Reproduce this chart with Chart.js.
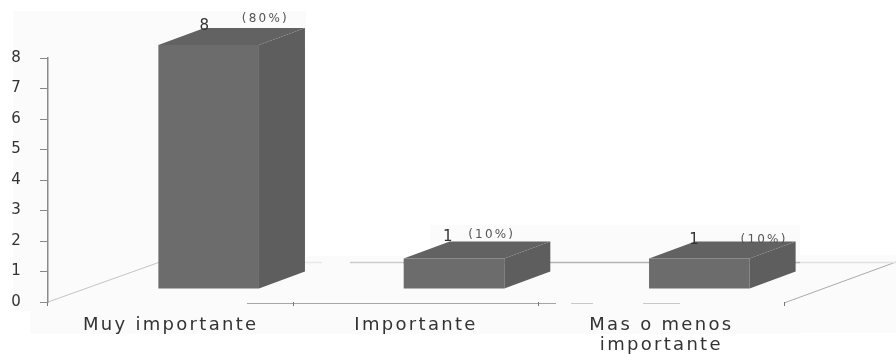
<!DOCTYPE html>
<html lang="es">
<head>
<meta charset="utf-8">
<title>Importancia</title>
<style>
  html, body { margin: 0; padding: 0; background: #fff; }
  canvas { display: block; }
</style>
<script src="https://cdn.jsdelivr.net/npm/chart.js@4"></script>
</head>
<body>
<canvas id="chart" width="896" height="355"></canvas>
<script>
const categories = ["Muy importante", "Importante", ["Mas o menos", "importante"]];
const responses = [8, 1, 1];
const shares = ["(80%)", "(10%)", "(10%)"];
const yTicks = [0, 1, 2, 3, 4, 5, 6, 7, 8];

// Oblique projection used for the pseudo-3D look
const SHIFT = { x: 38, y: -13 };   // front face sits forward on the floor
const DEPTH = { x: 46, y: -17 };   // extrusion of each box
const FLOOR = { x: 112, y: -40 };  // floor edge running to the back wall
const shareOffsets = [{ x: 107, y: -26 }, { x: 88, y: -24 }, { x: 115, y: -19 }];
const valueOffsets = [{ x: 46, y: -19 }, { x: 44, y: -21 }, { x: 45, y: -18 }];

function segment(ctx, x0, y0, x1, y1, color, width) {
  ctx.strokeStyle = color;
  ctx.lineWidth = width;
  ctx.beginPath();
  ctx.moveTo(x0, y0);
  ctx.lineTo(x1, y1);
  ctx.stroke();
}

const box3d = {
  id: 'box3d',
  beforeDraw(chart) {
    const { ctx, chartArea: a } = chart;
    // Wide tracking for the axis captions
    ctx.letterSpacing = '2.3px';
    ctx.save();
    // Scanned paper tone behind the plot
    ctx.fillStyle = '#fbfbfb';
    ctx.fillRect(13, 11, 293, 300);
    ctx.fillRect(30, 311, 276, 23);
    ctx.fillRect(306, 256, 124, 78);
    ctx.fillRect(430, 225, 370, 109);
    ctx.fillRect(800, 255, 96, 78);

    // Floor outline
    const bx = a.left + FLOOR.x, by = a.bottom + FLOOR.y;
    const far = a.right + FLOOR.x;
    segment(ctx, a.left, a.bottom, bx, by, '#c4c4c4', 1);
    segment(ctx, a.right, a.bottom + 1, far, by, '#aaaaaa', 1);
    segment(ctx, bx + 145, by + 0.5, bx + 162, by + 0.5, '#e8e8e8', 1.5);
    segment(ctx, bx + 190, by + 0.5, bx + 243, by + 0.5, '#cccccc', 1.5);
    segment(ctx, bx + 243, by + 0.5, a.right + 16, by + 0.5, '#b4b4b4', 1.5);
    segment(ctx, a.right + 16, by + 0.5, far, by + 0.5, '#e2e2e2', 1.5);

    // Front edge of the floor
    segment(ctx, a.left + 199, a.bottom + 1.5, a.left + 508, a.bottom + 1.5, '#a6a6a6', 1);
    segment(ctx, a.left + 523, a.bottom + 1.5, a.left + 545, a.bottom + 1.5, '#c8c8c8', 1);
    segment(ctx, a.left + 595, a.bottom + 1.5, a.left + 632, a.bottom + 1.5, '#c8c8c8', 1);
    ctx.restore();
  },
  beforeDatasetsDraw(chart) {
    const { ctx } = chart;
    ctx.save();
    ctx.translate(SHIFT.x, SHIFT.y);
  },
  afterDatasetsDraw(chart) {
    const { ctx } = chart;
    ctx.restore();
    ctx.save();
    chart.getDatasetMeta(0).data.forEach((bar, i) => {
      const half = bar.width / 2;
      const left = bar.x - half + SHIFT.x;
      const right = bar.x + half + SHIFT.x;
      const top = bar.y + SHIFT.y;
      const bottom = bar.base + SHIFT.y;
      // Right-hand side
      ctx.fillStyle = '#5e5e5e';
      ctx.beginPath();
      ctx.moveTo(right, top);
      ctx.lineTo(right + DEPTH.x, top + DEPTH.y);
      ctx.lineTo(right + DEPTH.x, bottom + DEPTH.y);
      ctx.lineTo(right, bottom);
      ctx.closePath();
      ctx.fill();
      // Top
      ctx.fillStyle = '#626262';
      ctx.beginPath();
      ctx.moveTo(left, top);
      ctx.lineTo(left + DEPTH.x, top + DEPTH.y);
      ctx.lineTo(right + DEPTH.x, top + DEPTH.y);
      ctx.lineTo(right, top);
      ctx.closePath();
      ctx.fill();
      // Value and share captions
      ctx.textAlign = 'center';
      ctx.textBaseline = 'middle';
      ctx.letterSpacing = '0px';
      ctx.fillStyle = '#333333';
      ctx.font = '15px "DejaVu Sans"';
      ctx.fillText(String(responses[i]), left + valueOffsets[i].x, top + valueOffsets[i].y);
      ctx.letterSpacing = '2.2px';
      ctx.fillStyle = '#555555';
      ctx.font = '12px "DejaVu Sans"';
      ctx.fillText(shares[i], left + shareOffsets[i].x, top + shareOffsets[i].y);
    });
    ctx.restore();
  }
};

new Chart(document.getElementById('chart'), {
  type: 'bar',
  data: {
    labels: categories,
    datasets: [{
      data: responses,
      backgroundColor: '#6c6c6c',
      barPercentage: 0.41,
      categoryPercentage: 1
    }]
  },
  options: {
    responsive: false,
    animation: false,
    layout: { padding: { top: 58, right: 112, bottom: 0, left: 0 } },
    plugins: { legend: { display: false }, tooltip: { enabled: false } },
    scales: {
      x: {
        afterFit(scale) { scale.height = 53; },
        border: { display: false },
        grid: { drawOnChartArea: false, color: '#777777', tickLength: 4 },
        ticks: {
          maxRotation: 0, autoSkip: false, padding: 9, color: '#333333',
          font: { family: '"DejaVu Sans"', size: 18, lineHeight: 1.13 }
        }
      },
      y: {
        min: 0, max: 8,
        afterFit(scale) { scale.width = 48; },
        afterBuildTicks(scale) { scale.ticks = yTicks.map(value => ({ value })); },
        border: { display: true, color: '#8a8a8a', width: 1.5 },
        grid: { drawOnChartArea: false, color: '#888888', tickLength: 8 },
        ticks: {
          padding: 17, color: '#333333',
          font: { family: '"DejaVu Sans"', size: 15 }
        }
      }
    }
  },
  plugins: [box3d]
});
</script>
</body>
</html>
